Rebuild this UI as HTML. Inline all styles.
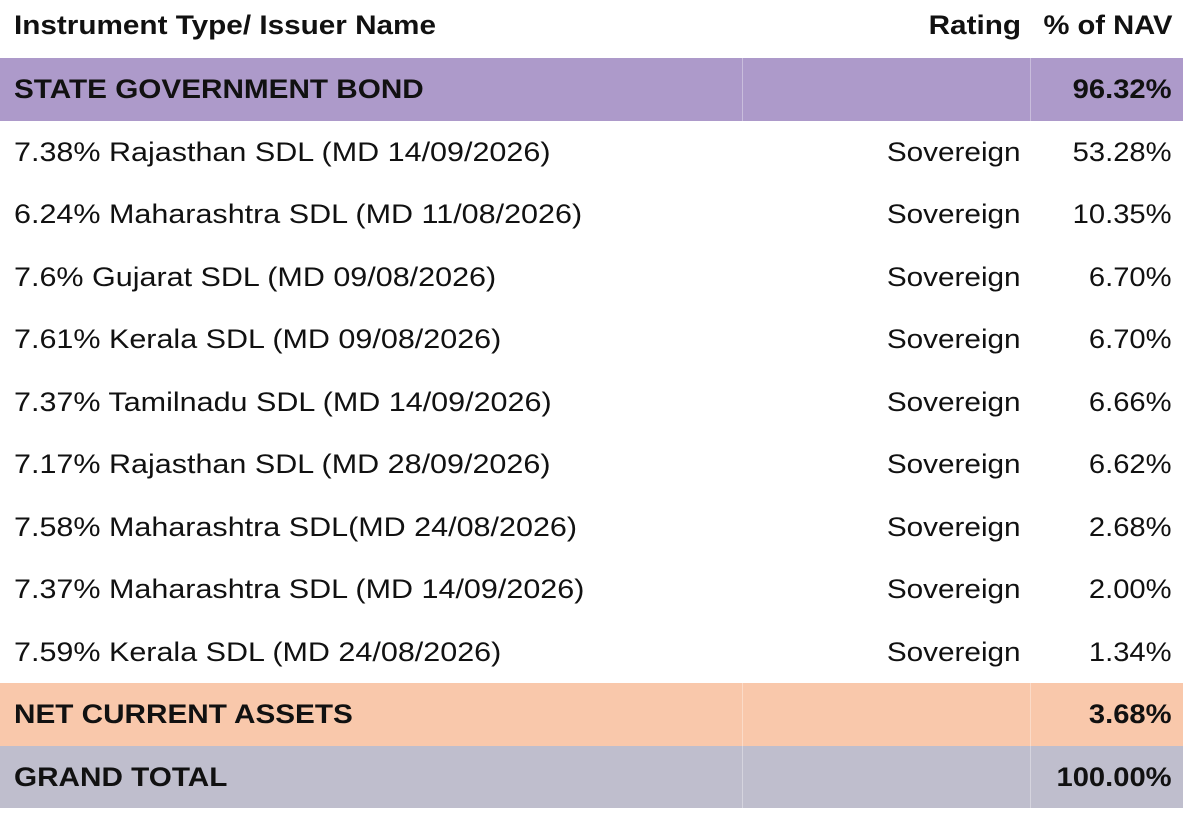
<!DOCTYPE html>
<html><head><meta charset="utf-8"><style>
body{margin:0;width:1188px;height:816px;background:#fff;font-family:"Liberation Sans",sans-serif;color:#111;position:relative;overflow:hidden}
.r{position:absolute;left:0;width:1183px;height:62.5px;font-size:27px}
.r span{position:absolute;top:0;line-height:62.5px;white-space:nowrap}
.n{left:14px;transform:scaleX(1.13);transform-origin:left center}
.g{right:162px;transform:scaleX(1.1);transform-origin:right center}
.p{right:11px;transform:scaleX(1.08);transform-origin:right center}
.b{font-weight:bold}
.b .n{transform:scaleX(1.1)}
.d{position:absolute;top:0;bottom:0;width:1px;background:rgba(255,255,255,0.35)}
</style></head><body>
<div class="r b" style="top:-6px"><span class="n">Instrument Type/ Issuer Name</span><span class="g">Rating</span><span class="p">% of NAV</span></div>
<div class="r b" style="top:58px;background:#ad9aca"><div class="d" style="left:742px"></div><div class="d" style="left:1030px"></div><span class="n">STATE GOVERNMENT BOND</span><span class="p">96.32%</span></div>
<div id="rows"></div>
<div class="r b" style="top:683px;background:#f9c8ab"><div class="d" style="left:742px"></div><div class="d" style="left:1030px"></div><span class="n">NET CURRENT ASSETS</span><span class="p">3.68%</span></div>
<div class="r b" style="top:745.5px;background:#bfbecd"><div class="d" style="left:742px"></div><div class="d" style="left:1030px"></div><span class="n">GRAND TOTAL</span><span class="p">100.00%</span></div>
<script>
const names=["7.38% Rajasthan SDL (MD 14/09/2026)","6.24% Maharashtra SDL (MD 11/08/2026)","7.6% Gujarat SDL (MD 09/08/2026)","7.61% Kerala SDL (MD 09/08/2026)","7.37% Tamilnadu SDL (MD 14/09/2026)","7.17% Rajasthan SDL (MD 28/09/2026)","7.58% Maharashtra SDL(MD 24/08/2026)","7.37% Maharashtra SDL (MD 14/09/2026)","7.59% Kerala SDL (MD 24/08/2026)"];
const navs=["53.28%","10.35%","6.70%","6.70%","6.66%","6.62%","2.68%","2.00%","1.34%"];
const c=document.getElementById('rows');
names.forEach((n,i)=>{
const r=document.createElement('div');r.className='r';r.style.top=(120.5+i*62.5)+'px';


r.innerHTML='<span class="n"></span><span class="g">Sovereign</span><span class="p"></span>';
r.children[0].textContent=n;r.children[2].textContent=navs[i];
c.appendChild(r);});
</script>
</body></html>
